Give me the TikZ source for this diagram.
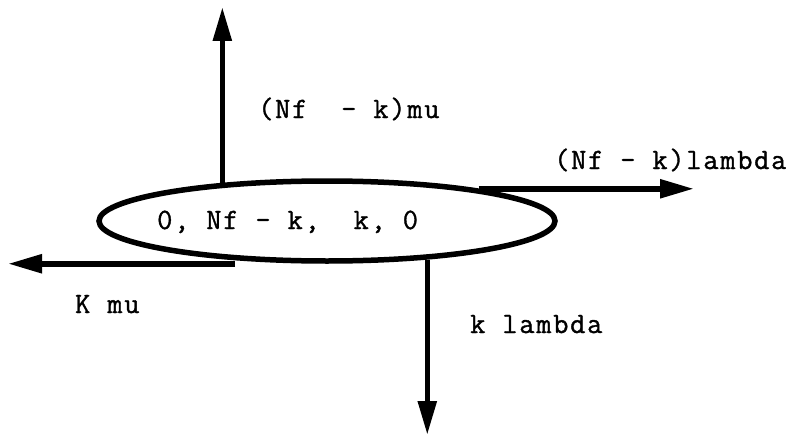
\documentclass[tikz,border=0pt]{standalone}
\usepackage{fontspec}
\newfontfamily\courfont{Latin Modern Mono}[LetterSpace=6,FakeBold=1.2]
\usetikzlibrary{shapes.geometric,arrows.meta}
\tikzset{
  lbl/.style={anchor=base west,inner sep=0pt,font=\courfont\fontsize{29.5}{35}\selectfont},
  arr/.style={line width=5.5pt,-{Triangle[length=34pt,width=18pt]}},
  st/.style={draw,ellipse,line width=5.5pt,minimum width=456pt,minimum height=80pt,inner sep=0pt}
}
\begin{document}
\begin{tikzpicture}[x=1pt,y=-1pt]
\useasboundingbox (0,0) rectangle (786,436);
\node[st] (e) at (327,221) {};
\node[lbl] (t) at (157,229) {0, Nf - k,\ \ k, 0};
\coordinate (up) at (222,7);
\coordinate (rt) at (694,189);
\coordinate (lt) at (8,262);
\coordinate (dn) at (425,435);
\draw[arr] (e.160) -- (e.160 |- up);
\draw[arr] (e.12) -- (rt |- e.12);
\draw[arr] (e.south -| 235,0) -- (lt |- e.south);
\draw[arr] (e.339) -- (e.339 |- dn);
\node[lbl] (l1) at (258,118) {(Nf\ \ - k)mu};
\node[lbl] (l2) at (554,169) {(Nf - k)lambda};
\node[lbl] (l3) at (75,313) {K mu};
\node[lbl] (l4) at (470,333) {k lambda};
\end{tikzpicture}
\end{document}
